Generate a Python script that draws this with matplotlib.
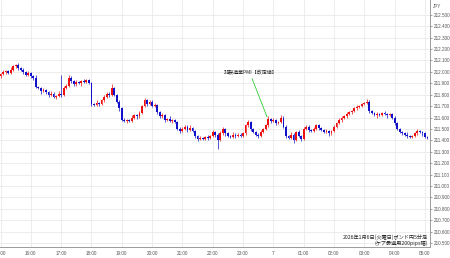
import matplotlib
matplotlib.use("Agg")
import matplotlib.pyplot as plt
from matplotlib.transforms import Bbox, TransformedBbox

plt.rcParams['font.family'] = ['Noto Sans CJK JP', 'DejaVu Sans']

first_open = 211.96
closes = [
    211.98, 212.00, 212.01, 211.99, 212.02, 212.05, 212.06, 212.03, 212.02, 212.00, 211.97, 211.99,
    211.96, 211.95, 211.87, 211.86, 211.83, 211.84, 211.82, 211.80, 211.81, 211.78, 211.79, 211.81,
    211.80, 211.86, 211.88, 211.95, 211.92, 211.89, 211.91, 211.90, 211.92, 211.91, 211.93, 211.90,
    211.72, 211.71, 211.73, 211.72, 211.75, 211.78, 211.81, 211.80, 211.86, 211.80, 211.74, 211.68,
    211.58, 211.57, 211.58, 211.57, 211.60, 211.62, 211.61, 211.64, 211.70, 211.75, 211.72, 211.74,
    211.70, 211.71, 211.65, 211.61, 211.62, 211.58, 211.59, 211.57, 211.58, 211.56, 211.50, 211.48,
    211.50, 211.52, 211.49, 211.51, 211.48, 211.44, 211.41, 211.42, 211.41, 211.43, 211.42, 211.44,
    211.47, 211.45, 211.40, 211.46, 211.50, 211.46, 211.44, 211.43, 211.45, 211.44, 211.45, 211.44,
    211.46, 211.53, 211.56, 211.50, 211.47, 211.45, 211.44, 211.47, 211.50, 211.53, 211.59, 211.57,
    211.58, 211.55, 211.56, 211.60, 211.52, 211.44, 211.42, 211.45, 211.40, 211.47, 211.44, 211.41,
    211.50, 211.52, 211.49, 211.48, 211.50, 211.53, 211.51, 211.49, 211.47, 211.48, 211.46, 211.48,
    211.52, 211.55, 211.58, 211.60, 211.61, 211.63, 211.65, 211.66, 211.68, 211.69, 211.70, 211.72,
    211.73, 211.74, 211.66, 211.64, 211.62, 211.63, 211.62, 211.64, 211.63, 211.62, 211.63, 211.60,
    211.55, 211.50, 211.47, 211.46, 211.45, 211.44, 211.43, 211.44, 211.46, 211.48, 211.47, 211.46,
    211.43, 211.42,
]
wick_up_pips = [
    1, 2, 1, 1, 2, 1, 1, 2, 1, 1, 1, 2,
    1, 1, 2, 1, 1, 2, 1, 1, 2, 1, 1, 2,
    16, 2, 1, 2, 1, 1, 2, 1, 1, 2, 1, 1,
    1, 1, 2, 1, 1, 2, 1, 1, 3, 1, 1, 1,
    1, 2, 1, 1, 2, 1, 1, 2, 1, 2, 1, 1,
    1, 2, 1, 1, 2, 1, 1, 2, 1, 1, 1, 2,
    2, 1, 1, 2, 1, 1, 1, 2, 1, 1, 2, 1,
    2, 1, 1, 2, 2, 1, 1, 1, 2, 1, 1, 1,
    1, 1, 2, 1, 1, 1, 1, 2, 1, 1, 2, 1,
    2, 1, 1, 2, 1, 1, 1, 2, 1, 1, 2, 1,
    2, 1, 1, 1, 2, 1, 1, 1, 1, 2, 1, 1,
    1, 1, 2, 1, 1, 2, 1, 1, 1, 2, 1, 1,
    1, 2, 1, 1, 1, 2, 1, 1, 2, 1, 1, 1,
    1, 1, 1, 1, 1, 2, 1, 1, 1, 2, 1, 1,
    1, 1,
]
wick_dn_pips = [
    1, 1, 2, 1, 1, 1, 2, 1, 1, 2, 1, 1,
    1, 2, 1, 1, 2, 1, 1, 2, 1, 1, 2, 1,
    2, 1, 1, 1, 2, 1, 1, 1, 2, 1, 1, 1,
    2, 1, 1, 2, 1, 1, 1, 2, 1, 1, 1, 2,
    1, 1, 2, 1, 1, 1, 2, 1, 1, 1, 2, 1,
    1, 1, 2, 1, 1, 2, 1, 1, 2, 1, 1, 2,
    1, 1, 2, 1, 1, 2, 2, 1, 1, 1, 2, 1,
    1, 2, 8, 1, 1, 2, 1, 1, 1, 2, 1, 1,
    1, 1, 1, 2, 1, 1, 2, 1, 1, 1, 1, 2,
    1, 2, 1, 1, 1, 2, 1, 1, 2, 1, 1, 2,
    1, 1, 2, 1, 1, 1, 2, 1, 1, 1, 2, 1,
    1, 1, 1, 2, 1, 1, 1, 2, 1, 1, 1, 1,
    1, 1, 2, 1, 1, 2, 1, 1, 1, 2, 1, 1,
    2, 1, 1, 1, 1, 2, 1, 1, 1, 1, 1, 2,
    1, 1,
]
hour_labels = ["15:00", "16:00", "17:00", "18:00", "19:00", "20:00", "21:00", "22:00",
               "23:00", "7", "01:00", "02:00", "03:00", "04:00", "05:00"]
y_ticks = [210.5, 210.6, 210.7, 210.8, 210.9, 211.0, 211.1, 211.2, 211.3, 211.4,
           211.5, 211.6, 211.7, 211.8, 211.9, 212.0, 212.1, 212.2, 212.3, 212.4, 212.5]
event_label = "非製造業PMI【改定値】"
title_lines = ["2026年1月6日(火曜日)ポンド円5分足", "(ケア最適用200pips幅)"]

UP = "#ee1111"
DN = "#1111cc"

fig = plt.figure(figsize=(4.5, 2.58), dpi=100)
ax = fig.add_axes([0.0, 1 - 247 / 258, 430 / 450, 247 / 258])

opens = [first_open] + closes[:-1]
for i, (o, c) in enumerate(zip(opens, closes)):
    col = UP if c >= o else DN
    top = max(o, c)
    bot = min(o, c)
    hi = top + wick_up_pips[i] * 0.01
    lo = bot - wick_dn_pips[i] * 0.01
    ax.vlines(i, lo, hi, color=col, linewidth=0.5, zorder=3)
    h = max(top - bot, 0.005)
    ax.bar(i, h, bottom=bot, width=0.72, color=col, linewidth=0, zorder=4)

ax.set_xlim(-0.2, 170)
ax.set_ylim(210.465, 212.63)

ax.set_xticks([12 * k for k in range(len(hour_labels))])
ax.set_xticklabels(hour_labels, family='Liberation Sans')
ax.set_yticks(y_ticks)
ax.set_yticklabels([f"{v:.3f}" for v in y_ticks], family='Liberation Sans')
ax.yaxis.tick_right()
ax.tick_params(axis='y', labelsize=3.3, length=1.5, width=0.4, colors='#555555', pad=1)
ax.tick_params(axis='x', labelsize=3.3, length=0, colors='#555555', pad=3)

ax.grid(True, color='#e6e6e6', linewidth=0.5)
ax.set_axisbelow(True)
for s in ['left', 'top']:
    ax.spines[s].set_visible(False)
ax.spines['right'].set_color('#9a9a9a')
ax.spines['right'].set_linewidth(0.7)
ax.spines['bottom'].set_color('#9a9a9a')
ax.spines['bottom'].set_linewidth(0.7)

clip = TransformedBbox(Bbox([[0, 0], [430 / 450, 1]]), fig.transFigure)
for t in ax.get_xticklabels():
    t.set_clip_box(clip)
    t.set_clip_on(True)

fig.text(437 / 450, 1 - 6 / 258, "JPY", fontsize=3.3, family='Liberation Sans',
         color='#555555', ha='center', va='center')

# event annotation
ax.plot([99.6, 105.5], [211.94, 211.605], color='#33cc33', linewidth=0.6, zorder=5)
ax.text(99.2, 211.99, event_label, fontsize=3.6, ha='center', va='center', color='#222222')

fig.text(428 / 450, 1 - 237 / 258, title_lines[0], fontsize=3.7, ha='right', va='center', color='#222222')
fig.text(428 / 450, 1 - 243 / 258, title_lines[1], fontsize=3.7, ha='right', va='center', color='#222222')

fig.savefig("out.png", dpi=100, facecolor='white')
